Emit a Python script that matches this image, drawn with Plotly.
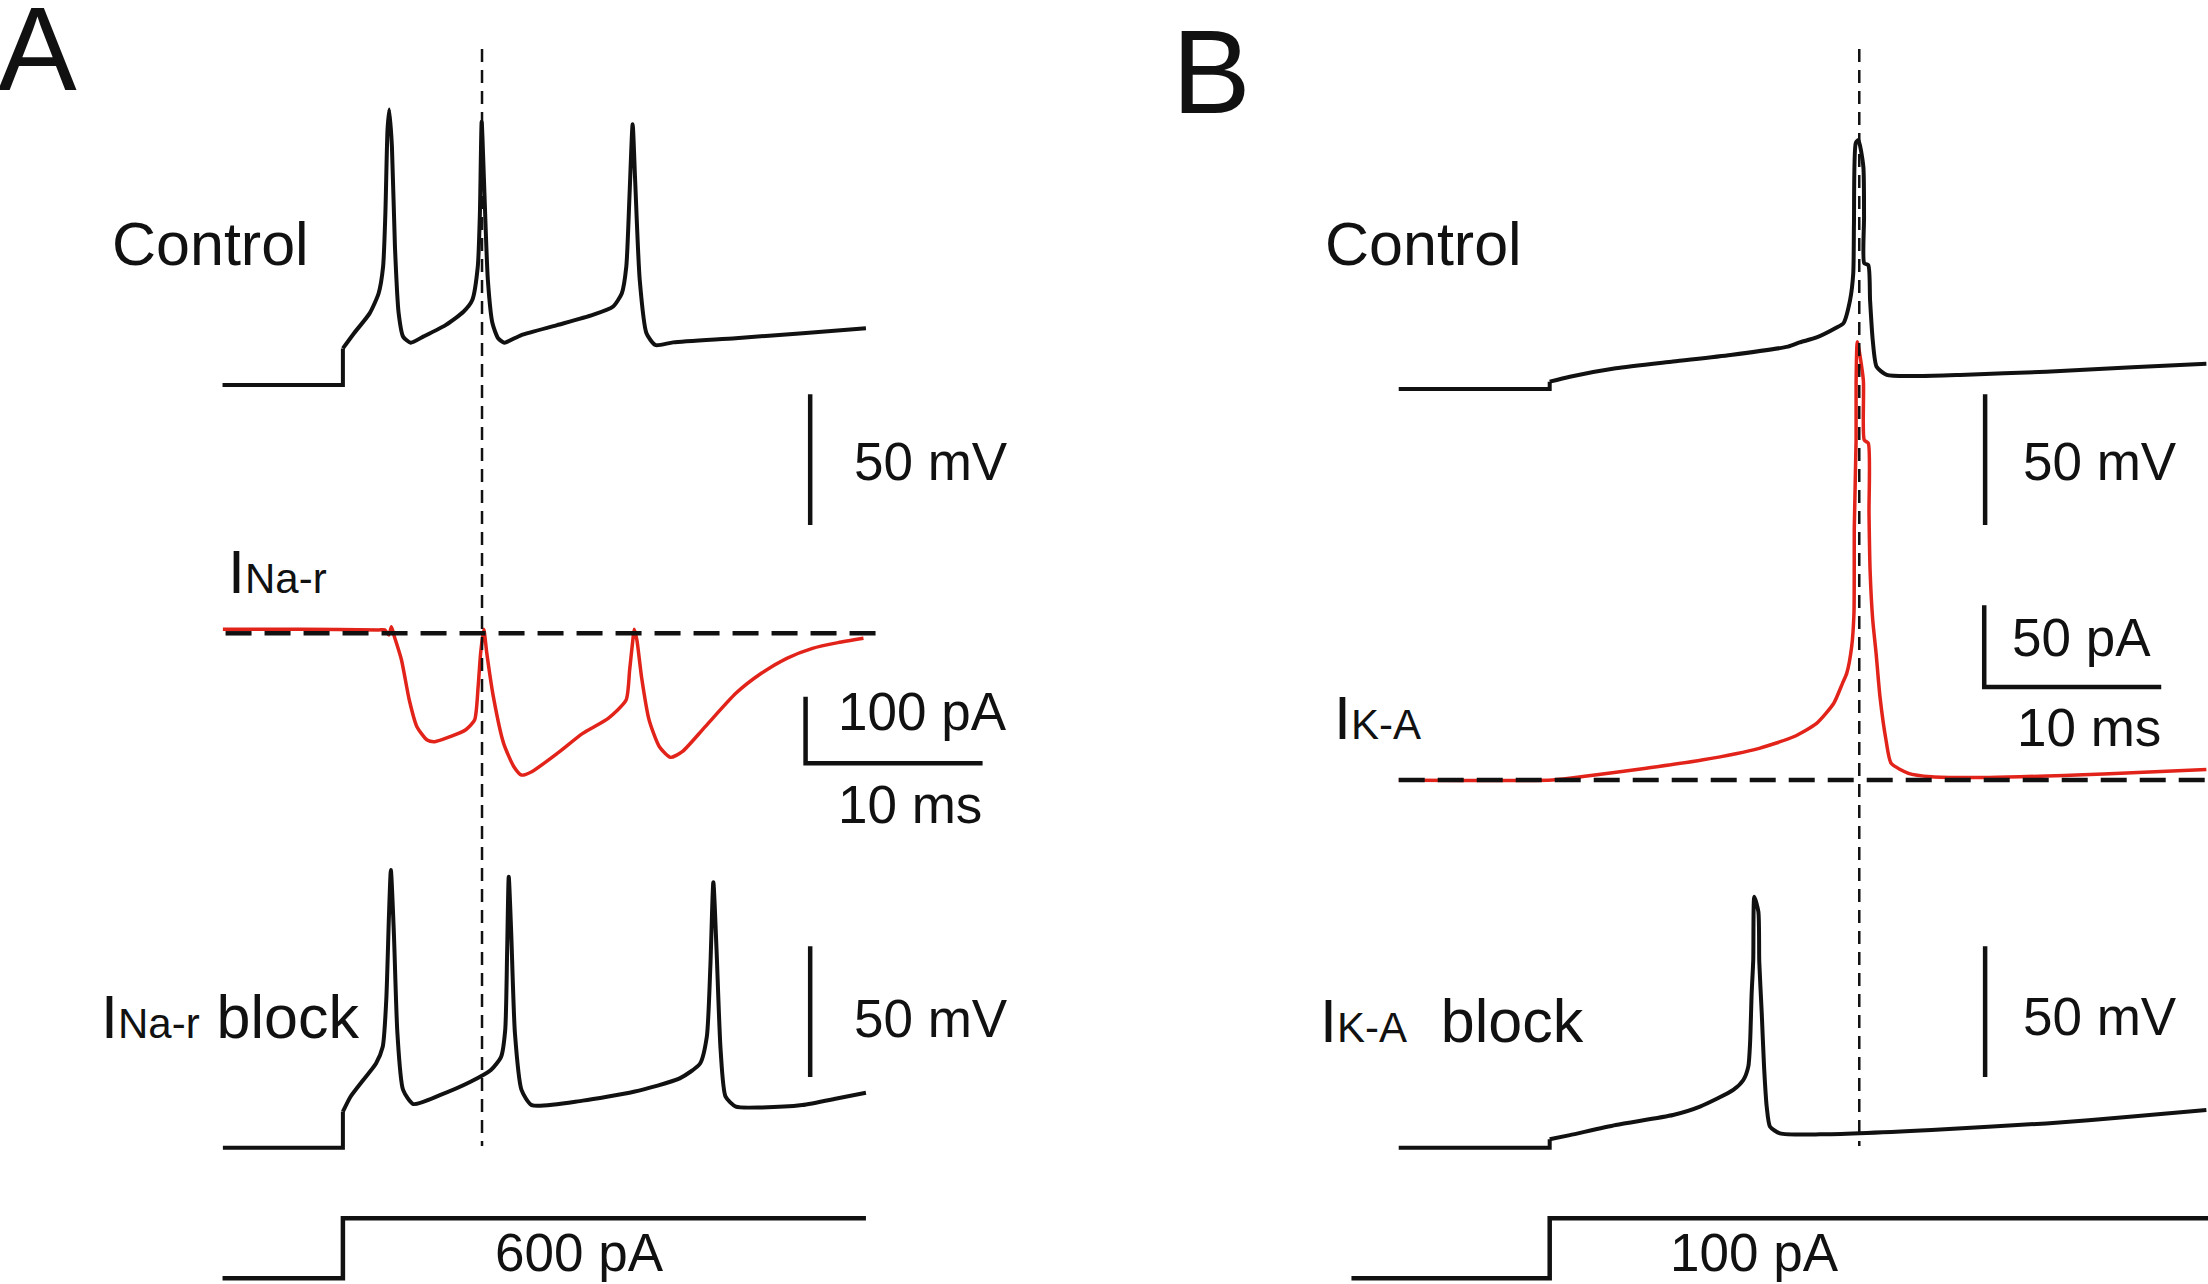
import plotly.graph_objects as go

# ---------------- data (time in ms from current-step onset) ----------------
# Panel A
a_ctrl_t = [-6.8, 0.0, 0.0, 0.63, 1.51, 2.02, 2.27, 2.40, 2.52, 2.62, 2.77, 2.94, 3.15, 3.40, 3.83,
            4.54, 5.80, 6.81, 7.31, 7.62, 7.74, 7.84, 7.97, 8.19, 8.45, 8.77, 9.12, 10.08, 12.10,
            14.12, 15.25, 15.76, 16.01, 16.19, 16.37, 16.51, 16.77, 17.15, 17.65, 18.66, 22.19,
            25.98, 29.55]
a_ctrl_v = [-70.0, -70.0, -56.0, -50.2, -42.6, -34.9, -24.8, -4.3, 27.5, 35.4, 21.1, -17.1, -42.6,
            -51.5, -53.8, -51.5, -47.1, -42.0, -37.5, -24.8, -4.3, 30.7, 8.4, -29.8, -46.4, -52.1,
            -53.8, -50.9, -47.1, -43.2, -40.1, -34.9, -24.8, 2.0, 29.7, 8.4, -29.8, -50.2, -54.7,
            -53.7, -52.1, -50.2, -48.3]

a_inar_t = [-6.78, -2.31, 2.02, 2.36, 2.60, 2.74, 2.88, 3.31, 3.75, 4.18, 4.76, 5.19, 6.05, 6.92,
            7.44, 7.64, 7.78, 7.96, 8.13, 8.50, 9.08, 9.66, 10.09, 10.67, 12.11, 13.55, 14.99,
            16.00, 16.20, 16.38, 16.46, 16.61, 16.87, 17.30, 17.88, 18.51, 19.17, 20.47, 22.20,
            23.64, 25.08, 26.53, 27.97, 29.41]
a_inar_i = [6, 6, 5, 5, -2.5, 10, -2.5, -40, -100, -140, -160, -162.5, -155, -145, -130, -80, -30,
            6, -30, -95, -165, -200, -212.5, -207.5, -180, -150, -127.5, -100, -55, -10, 6, -10,
            -65, -130, -170, -186, -177.5, -140, -90, -60, -37.5, -22.5, -14, -7.5]

a_block_t = [-6.78, 0.0, 0.0, 0.43, 1.15, 1.87, 2.25, 2.45, 2.60, 2.71, 2.88, 3.08, 3.40, 3.98,
             5.48, 7.21, 8.36, 8.94, 9.17, 9.28, 9.37, 9.51, 9.72, 10.09, 10.67, 13.55, 16.43,
             19.03, 20.18, 20.56, 20.76, 20.93, 21.11, 21.34, 21.62, 22.20, 23.64, 25.95, 27.97,
             29.55]
a_block_v = [-70, -70, -56.2, -50.5, -44.1, -37.8, -31.4, -13.5, 18.3, 36.2, 12.0, -26.3, -47.9,
             -53.3, -49.9, -44.8, -40.3, -35.2, -25.0, 5.6, 33.6, 12.0, -26.3, -47.9, -53.7, -52.0,
             -48.6, -43.5, -37.8, -27.6, -0.8, 31.5, 5.6, -32.7, -50.5, -54.3, -54.6, -53.7, -51.1,
             -49.0]

a_stim_t = [-6.8, 0.0, 0.0, 29.55]
a_stim_i = [0, 0, 600, 600]
a_zero_t = [-6.63, 30.7]
a_marker_t = 7.86

# Panel B
b_ctrl_t = [-8.53, 0.0, 0.0, 1.14, 3.73, 6.97, 10.22, 13.46, 14.12, 15.08, 16.21, 16.59, 16.97,
            17.15, 17.19, 17.29, 17.44, 17.72, 17.76, 17.77, 18.00, 18.10, 18.25, 18.47, 19.04,
            20.92, 23.18, 28.05, 32.91, 37.1]
b_ctrl_v = [-70, -70, -67.2, -65.3, -62.1, -59.5, -57.0, -53.8, -52.2, -50.3, -46.5, -44.9, -36.0,
            -25.8, -6.6, 24.0, 25.2, 15.0, -4.1, -21.9, -22.6, -36.0, -51.3, -61.5, -64.6, -65.0,
            -64.6, -63.4, -61.7, -60.3]

b_ika_t = [-8.53, 0.16, 2.11, 5.35, 8.59, 11.84, 13.78, 15.08, 16.05, 16.54, 16.78, 17.06, 17.19,
           17.21, 17.31, 17.31, 17.38, 17.72, 17.77, 18.00, 18.04, 18.10, 18.25, 18.44, 18.66,
           19.00, 19.29, 20.27, 21.57, 24.81, 31.29, 37.1]
b_ika_i = [0, 0, 2.4, 7.1, 12.2, 19.4, 26.5, 34.7, 47.0, 59.2, 65.3, 81.6, 102.1, 155.1, 208.2,
           242.9, 268.4, 244.9, 208.2, 206.2, 163.3, 128.6, 98.0, 77.6, 51.0, 24.5, 10.2, 4.1, 2.0,
           1.6, 3.7, 6.5]

b_block_t = [-8.53, 0.0, 0.0, 1.14, 3.73, 6.97, 8.49, 10.37, 10.94, 11.22, 11.32, 11.41, 11.50,
             11.56, 11.79, 11.84, 11.98, 12.11, 12.26, 12.45, 13.01, 15.27, 21.57, 28.05, 32.92,
             37.1]
b_block_v = [-70, -70, -66.8, -65.2, -61.3, -57.5, -54.3, -47.9, -44.1, -39.0, -30.1, -11.0, 1.8,
             26.0, 20.2, 1.1, -18.6, -39.0, -54.3, -62.0, -64.5, -64.9, -63.2, -60.7, -58.1, -55.6]

b_stim_t = [-11.2, 0.0, 0.0, 37.2]
b_stim_i = [0, 0, 100, 100]
b_zero_t = [-8.53, 37.2]
b_marker_t = 17.49

# ---------------- layout geometry ----------------
W, H = 2208, 1284
PX_PER_MS = 17.7
FONT = "Liberation Sans, Arial, Helvetica, sans-serif"
BLACK = "#111111"
RED = "#e2231a"
NUM_SIZE = 53


def xr(t0_px):
    return [-t0_px / PX_PER_MS, (W - t0_px) / PX_PER_MS]


def yr(v0, p0, s):
    # value v0 drawn at p0 pixels from top, s pixels per unit
    return [v0 - (H - p0) / s, v0 + p0 / s]


fig = go.Figure()


def line(t, v, xa, ya, color=BLACK, width=4, dash=None, shape="linear"):
    ln = dict(color=color, width=width, dash=dash, shape=shape)
    if shape == "spline":
        ln["smoothing"] = 0.6
    fig.add_trace(go.Scatter(x=t, y=v, xaxis=xa, yaxis=ya, mode="lines", line=ln,
                             hoverinfo="skip", showlegend=False))


def vtrace(t, v, xa, ya):
    # resting baseline and step drawn straight, the rest smooth
    line(t[:3], v[:3], xa, ya)
    line(t[2:], v[2:], xa, ya, shape="spline")


# traces
vtrace(a_ctrl_t, a_ctrl_v, "x", "y")
line(a_inar_t, a_inar_i, "x", "y2", color=RED, width=3.5, shape="spline")
line(a_zero_t, [0, 0], "x", "y2", width=4.5, dash="26px,13px")
vtrace(a_block_t, a_block_v, "x", "y3")
line(a_stim_t, a_stim_i, "x", "y4", width=4.5)

vtrace(b_ctrl_t, b_ctrl_v, "x2", "y5")
line(b_ika_t, b_ika_i, "x2", "y6", color=RED, width=3.5, shape="spline")
line(b_zero_t, [0, 0], "x2", "y6", width=4.5, dash="26px,13px")
vtrace(b_block_t, b_block_v, "x2", "y7")
line(b_stim_t, b_stim_i, "x2", "y8", width=4.5)

# scale bars (in the units of each trace)
SB = 4.5
line([26.4, 26.4], [-123.5, -73.5], "x", "y", width=SB)            # 50 mV
line([26.14, 26.14, 36.14], [-95, -195, -195], "x", "y2", width=SB)  # 100 pA / 10 ms
line([26.4, 26.4], [-43, 7], "x", "y3", width=SB)                  # 50 mV
line([24.6, 24.6], [-122, -72], "x2", "y5", width=SB)              # 50 mV
line([24.55, 24.55, 34.55], [107, 57, 57], "x2", "y6", width=SB)   # 50 pA / 10 ms
line([24.6, 24.6], [-43, 7], "x2", "y7", width=SB)                 # 50 mV

ax_common = dict(visible=False, fixedrange=True, domain=[0, 1])
layout = dict(
    width=W, height=H, margin=dict(l=0, r=0, t=0, b=0),
    paper_bgcolor="white", plot_bgcolor="white",
    xaxis=dict(range=xr(342.9), **ax_common),
    xaxis2=dict(range=xr(1549.7), overlaying="x", **ax_common),
    yaxis=dict(range=yr(-70, 385, 2.615), **ax_common),
    yaxis2=dict(range=yr(0, 633.3, 0.667), overlaying="y", anchor="x", **ax_common),
    yaxis3=dict(range=yr(-70, 1147.7, 2.615), overlaying="y", anchor="x", **ax_common),
    yaxis4=dict(range=yr(0, 1278.3, 0.1), overlaying="y", anchor="x", **ax_common),
    yaxis5=dict(range=yr(-70, 389, 2.615), overlaying="y", anchor="x2", **ax_common),
    yaxis6=dict(range=yr(0, 780, 1.633), overlaying="y", anchor="x2", **ax_common),
    yaxis7=dict(range=yr(-70, 1147.7, 2.615), overlaying="y", anchor="x2", **ax_common),
    yaxis8=dict(range=yr(0, 1278.3, 0.6), overlaying="y", anchor="x2", **ax_common),
    showlegend=False,
)
fig.update_layout(**layout)

# vertical dashed marker lines
for xref, xm in (("x", a_marker_t), ("x2", b_marker_t)):
    fig.add_shape(type="line", xref=xref, yref="paper", x0=xm, x1=xm,
                  y0=1 - 49 / H, y1=1 - 1146 / H,
                  line=dict(color=BLACK, width=2.5, dash="13px,8px"), layer="above")

SUB = "<span style='font-size:42px'>{}</span>"


def label(text, px, py, size=61, xanchor="left", yanchor="middle"):
    fig.add_annotation(text=text, x=px / W, y=1 - py / H, xref="paper", yref="paper",
                       showarrow=False, xanchor=xanchor, yanchor=yanchor,
                       font=dict(size=size, family=FONT, color=BLACK))


label("A", -4, 49, size=118)
label("B", 1170, 72, size=118)
label("Control", 110, 244)
label("50 mV", 852, 461, size=NUM_SIZE)
label("I" + SUB.format("Na-r"), 226, 572)
label("100 pA", 836, 712, size=NUM_SIZE)
label("10 ms", 836, 804, size=NUM_SIZE)
label("I" + SUB.format("Na-r") + " block", 99, 1017)
label("50 mV", 852, 1018, size=NUM_SIZE)
label("600 pA", 579, H, size=NUM_SIZE, xanchor="center", yanchor="bottom")

label("Control", 1323, 244)
label("50 mV", 2021, 461, size=NUM_SIZE)
label("50 pA", 2010, 637, size=NUM_SIZE)
label("10 ms", 2015, 728, size=NUM_SIZE)
label("I" + SUB.format("K-A"), 1332, 718)
label("I" + SUB.format("K-A") + "\u00a0 block", 1318, 1021)
label("50 mV", 2021, 1016, size=NUM_SIZE)
label("100 pA", 1754, H, size=NUM_SIZE, xanchor="center", yanchor="bottom")

fig.write_html("out.html", config={"displayModeBar": False},
               post_script="document.body.style.margin='0';document.body.style.overflow='hidden';")
